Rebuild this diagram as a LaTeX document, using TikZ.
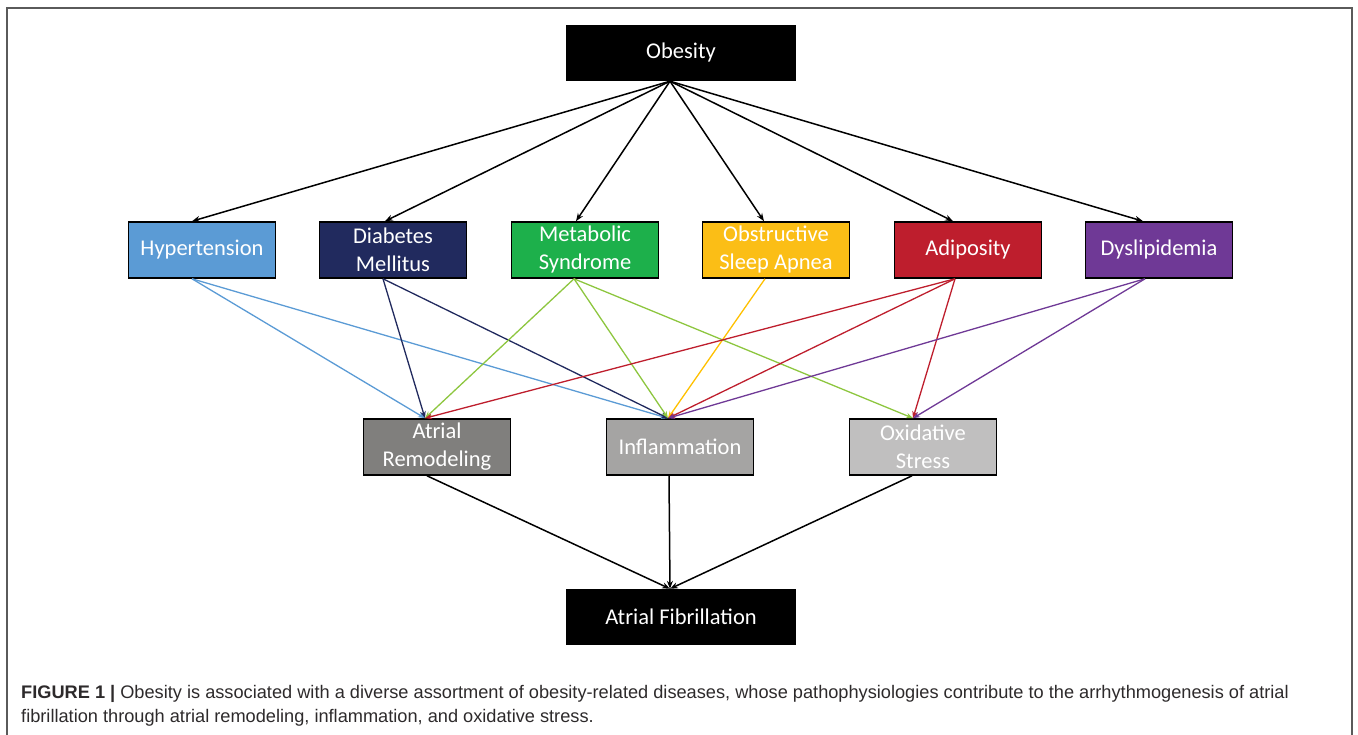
\documentclass[tikz,border=0pt]{standalone}
\usepackage{fontspec}
\setmainfont{Carlito}
\newfontfamily\capfont{Liberation Sans}
\usetikzlibrary{arrows.meta}
\definecolor{hypc}{RGB}{91,155,213}
\definecolor{diac}{RGB}{33,42,94}
\definecolor{metc}{RGB}{29,176,75}
\definecolor{osac}{RGB}{251,190,22}
\definecolor{adic}{RGB}{190,30,45}
\definecolor{dysc}{RGB}{111,57,150}
\definecolor{arc}{RGB}{128,127,125}
\definecolor{infc}{RGB}{165,164,163}
\definecolor{oxc}{RGB}{192,191,191}
\definecolor{lgreen}{RGB}{141,198,63}
\definecolor{lyellow}{RGB}{255,192,0}
\definecolor{framec}{RGB}{90,90,90}
\definecolor{capc}{RGB}{45,42,43}
\tikzset{
  box/.style={draw=black, line width=1.6pt, minimum width=147pt, minimum height=56pt, inner sep=0pt,
    text=white, align=center, font=\fontsize{22.5}{28}\selectfont},
  bigbox/.style={fill=black, draw=none, minimum width=230pt, minimum height=56pt, inner sep=0pt,
    text=white, align=center, font=\fontsize{22.5}{28}\selectfont},
  arr/.style={line width=1.5pt, -{Stealth[length=8pt,width=6pt]}},
  carr/.style={line width=1.3pt, -{Stealth[length=7pt,width=5.5pt]}},
  captext/.style={anchor=base west, inner sep=0pt, text=capc, font=\capfont\fontsize{18.2}{22}\selectfont}
}
\begin{document}
\begin{tikzpicture}[x=1pt,y=-1pt]
\useasboundingbox (0,0) rectangle (1358,735);
\draw[framec, line width=1.2pt] (7,735) -- (7,8) -- (1352,8) -- (1352,735);

\node[bigbox] (obes) at (681,53) {Obesity};
\node[box, fill=hypc] (hyp) at (202,250) {Hypertension};
\node[box, fill=diac] (dia) at (393,250) {Diabetes\\Mellitus};
\node[box, fill=metc] (met) at (585,250) {Metabolic\\Syndrome};
\node[box, fill=osac] (osa) at (776,250) {Obstructive\\Sleep Apnea};
\node[box, fill=adic] (adi) at (968,250) {Adiposity};
\node[box, fill=dysc] (dys) at (1159,250) {Dyslipidemia};
\node[box, fill=arc] (ar) at (437,447) {Atrial\\Remodeling};
\node[box, fill=infc] (inf) at (680,447) {Inflammation};
\node[box, fill=oxc] (ox) at (923,447) {Oxidative\\Stress};
\node[bigbox] (af) at (681,617) {Atrial Fibrillation};

% level 1
\coordinate (os) at ([xshift=-11pt]obes.south);
\draw[arr] (os) -- ([xshift=-10pt]hyp.north);
\draw[arr] (os) -- ([xshift=-8pt]dia.north);
\draw[arr] (os) -- ([xshift=-9pt]met.north);
\draw[arr] (os) -- ([xshift=-12pt]osa.north);
\draw[arr] (os) -- ([xshift=-15pt]adi.north);
\draw[arr] (os) -- ([xshift=-16pt]dys.north);

% level 2
\coordinate (art) at ([xshift=-12pt]ar.north);
\coordinate (inft) at ([xshift=-12pt]inf.north);
\coordinate (oxt) at ([xshift=-10pt]ox.north);
\draw[carr, hypc] ([xshift=-10pt]hyp.south) -- (art);
\draw[carr, hypc] ([xshift=-10pt]hyp.south) -- (inft);
\draw[carr, diac] ([xshift=-10pt]dia.south) -- (art);
\draw[carr, diac] ([xshift=-10pt]dia.south) -- (inft);
\draw[carr, lgreen] ([xshift=-11pt]met.south) -- (art);
\draw[carr, lgreen] ([xshift=-11pt]met.south) -- (inft);
\draw[carr, lgreen] ([xshift=-11pt]met.south) -- (oxt);
\draw[carr, lyellow] ([xshift=-11pt]osa.south) -- (inft);
\draw[carr, adic] ([xshift=-13pt]adi.south) -- (art);
\draw[carr, adic] ([xshift=-13pt]adi.south) -- (inft);
\draw[carr, adic] ([xshift=-13pt]adi.south) -- (oxt);
\draw[carr, dysc] ([xshift=-14pt]dys.south) -- (inft);
\draw[carr, dysc] ([xshift=-14pt]dys.south) -- (oxt);

% level 3
\coordinate (aft) at ([xshift=-11pt]af.north);
\draw[arr] ([xshift=-10pt]ar.south) -- (aft);
\draw[arr] ([xshift=-11pt]inf.south) -- (aft);
\draw[arr] ([xshift=-11pt]ox.south) -- (aft);

% caption
\node[captext] (cap1) at (21,698) {\textbf{FIGURE 1 |} Obesity is associated with a diverse assortment of obesity-related diseases, whose pathophysiologies contribute to the arrhythmogenesis of atrial};
\node[captext] (cap2) at (21,722) {fibrillation through atrial remodeling, inflammation, and oxidative stress.};
\end{tikzpicture}
\end{document}
